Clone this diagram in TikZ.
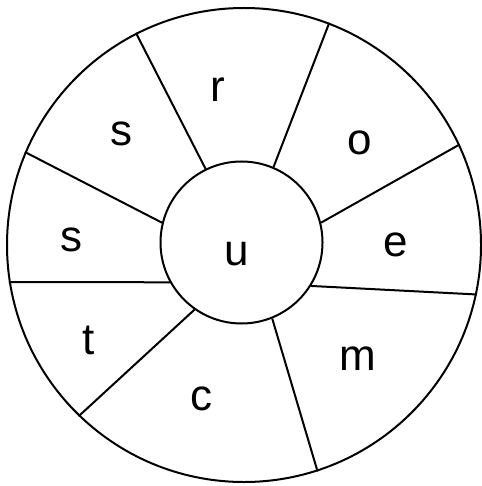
\documentclass[tikz,border=0pt]{standalone}
\usepackage{fontspec}
\setmainfont{Liberation Sans}
\begin{document}
\begin{tikzpicture}[x=1pt,y=-1pt,
  ring/.style={draw=black,circle,line width=2pt,inner sep=0pt},
  spoke/.style={draw=black,line width=2pt},
  lbl/.style={anchor=base,inner sep=0pt,font=\fontsize{44}{50}\selectfont}]
\useasboundingbox (0,0) rectangle (481,486);
\node[ring,minimum size=474pt] (O) at (244,245) {};
\node[ring,minimum size=162pt] (I) at (241.5,242.5) {};
\draw[spoke] (I.116.1) -- (O.117.9);
\draw[spoke] (I.67.6) -- (O.69.7);
\draw[spoke] (I.14.1) -- (O.25.0);
\draw[spoke] (I.-32.3) -- (O.-12.2);
\draw[spoke] (I.-68.9) -- (O.-72.2);
\draw[spoke] (I.-125.1) -- (O.-134.1);
\draw[spoke] (I.-151.1) -- (O.-171.1);
\draw[spoke] (I.166.2) -- (O.157.9);
\node[lbl] (lr) at (218.3,101.7) {r};
\node[lbl] (ls1) at (121.7,145.7) {s};
\node[lbl] (lo) at (359.3,155) {o};
\node[lbl] (le) at (396,256) {e};
\node[lbl] (lu) at (236.7,265.7) {u};
\node[lbl] (ls2) at (71.7,251.7) {s};
\node[lbl] (lt) at (88.3,354) {t};
\node[lbl] (lm) at (358.3,370) {m};
\node[lbl] (lc) at (201.7,410.7) {c};
\end{tikzpicture}
\end{document}
